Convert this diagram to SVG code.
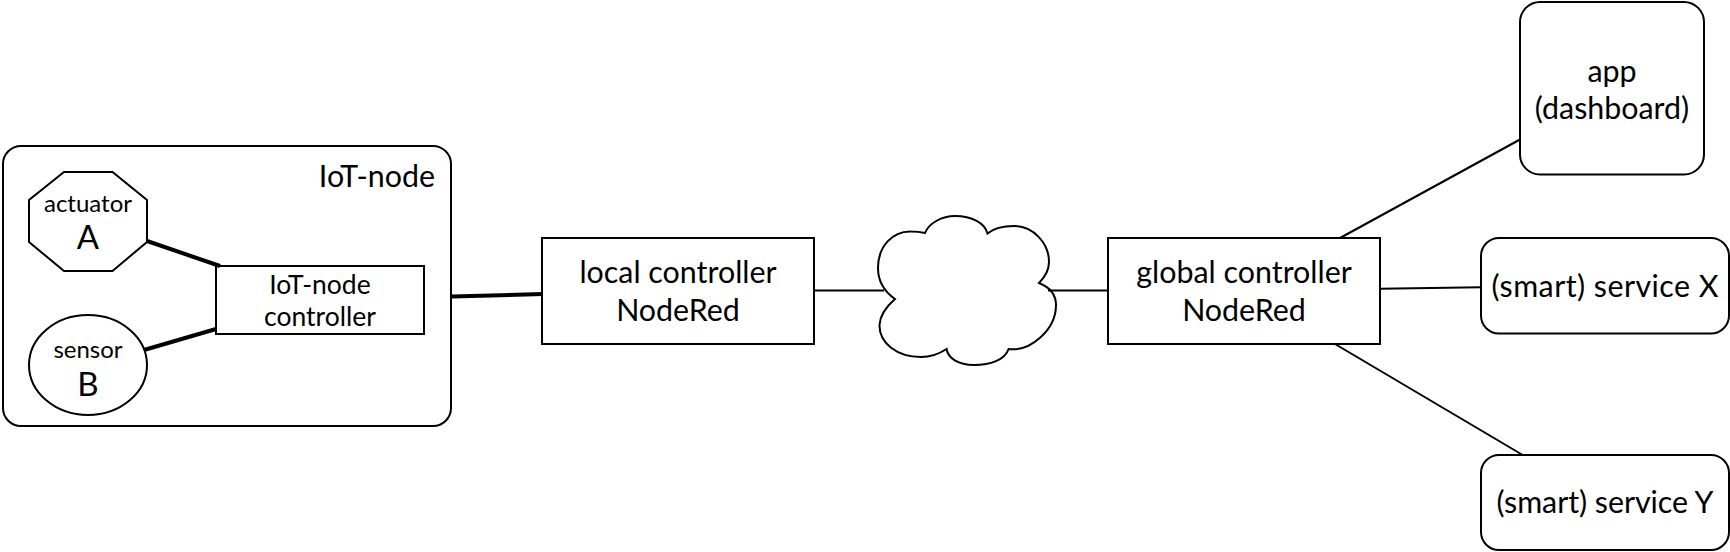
<svg xmlns="http://www.w3.org/2000/svg" width="1730" height="552" viewBox="0 0 1730 552">
<style>
.s{fill:#fff;stroke:#000;stroke-width:2}
.c{fill:none;stroke:#000;stroke-width:2}
.t{stroke-width:4}
text{font-family:"Lato","Liberation Sans",sans-serif;fill:#000;text-anchor:middle}
.l{font-size:30.400px}.m{font-size:26.500px}.n{font-size:24px}.b{font-size:33px}
</style>
<rect width="1730" height="552" fill="#fff"/>
<g id="iot-node"><rect class="s" x="3" y="146" width="448" height="280" rx="18"/><text class="l" x="435" y="187" style="text-anchor:end">IoT-node</text></g>
<g id="actuator"><polygon class="s" points="64,172 112.500,172 147,200 147,242 112.500,271 64,271 29,242 29,200"/><text class="n" x="88" y="212">actuator</text><text class="b" x="88" y="249">A</text></g>
<g id="sensor"><ellipse class="s" cx="88" cy="365" rx="59" ry="50"/><text class="n" x="88" y="358">sensor</text><text class="b" x="88" y="396">B</text></g>
<g id="controller"><rect class="s" x="216" y="266" width="208" height="68"/><text class="m" x="320" y="294">IoT-node</text><text class="m" x="320" y="326">controller</text></g>
<g id="local"><rect class="s" x="542" y="238" width="272" height="106"/><text class="l" x="678" y="283">local controller</text><text class="l" x="678" y="321">NodeRed</text></g>
<g id="cloud"><path class="s" d="M895 299C885 292 878 283 878 268C878 247 892 231 911 231.500C916 231.500 921 232 925 233C929 223 942 216 955 216C972 216 985 223 987.500 233.500C994 228 1004 226 1014 226C1033 226 1049 243 1049 262C1049 270 1045 277 1039 283C1049 287 1056 293 1056 305C1056 330 1030 352 1008.600 349C1005 360 990 365 974 365C958 365 948 358 946.600 349C939 354 931 357 921 357C897 357 879 343 879.500 325C880 315 887 306 895 299Z"/></g>
<g id="global"><rect class="s" x="1108" y="238" width="272" height="106"/><text class="l" x="1244" y="283">global controller</text><text class="l" x="1244" y="321">NodeRed</text></g>
<g id="app"><rect class="s" x="1520" y="2" width="184" height="172.500" rx="20"/><text class="l" x="1612" y="82">app</text><text class="l" x="1612" y="119">(dashboard)</text></g>
<g id="service-x"><rect class="s" x="1481" y="238" width="248" height="95.500" rx="18"/><text class="l" x="1605" y="297" textLength="227">(smart) service X</text></g>
<g id="service-y"><rect class="s" x="1481" y="455" width="248" height="95" rx="18"/><text class="l" x="1605" y="513" textLength="217">(smart) service Y</text></g>
<g id="connectors">
<path class="c t" d="M147 241L220 266M144 350L216 329M452 296.500L543 294"/>
<path class="c" d="M814 290.500H884M1048 290.500H1108M1340 238L1520 139.500M1380 288.700L1481 287.300M1335 344L1522.700 455"/>
</g>
</svg>
